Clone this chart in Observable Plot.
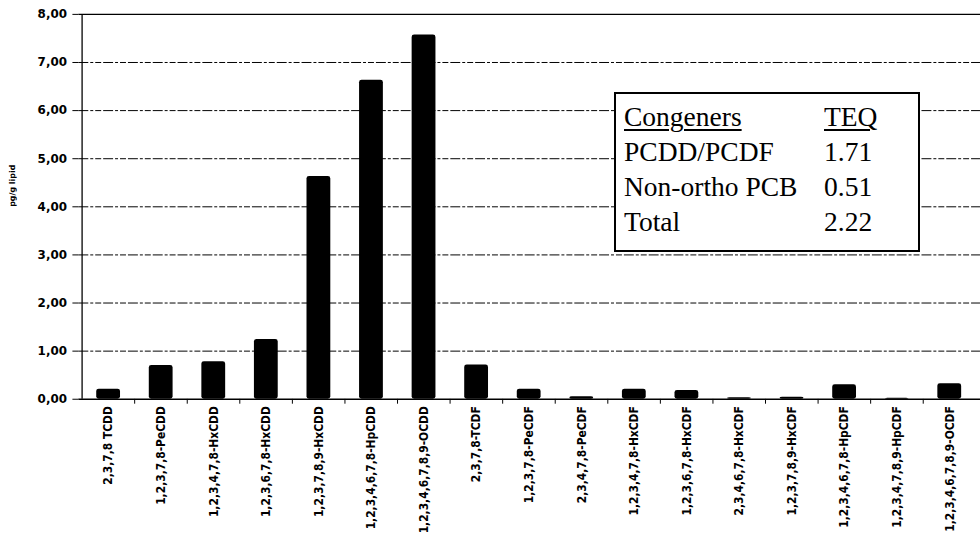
<!DOCTYPE html>
<html>
<head>
<meta charset="utf-8">
<script src="https://cdn.jsdelivr.net/npm/d3@7"></script>
<script src="https://cdn.jsdelivr.net/npm/@observablehq/plot@0.6"></script>
<style>
  html, body { margin: 0; padding: 0; background: #fff; overflow: hidden; }
  #wrap { position: relative; width: 980px; height: 538px; overflow: hidden; }
  #chart svg { display: block; }
  #chart g[aria-label="y-axis tick label"] text { font-weight: bold; }
  #legend {
    position: absolute; left: 614px; top: 92px; width: 302px; height: 156px;
    border: 2px solid #000; background: #fff;
    font-family: "Liberation Serif", "DejaVu Serif", serif; font-size: 27.5px; color: #000;
    box-sizing: content-box;
  }
  #legend table { border-collapse: collapse; margin: 5px 0 0 8px; }
  #legend td { padding: 0; line-height: 35px; white-space: nowrap; }
  #legend td.c1 { width: 200px; }
  #legend tr.head td { text-decoration: underline; text-decoration-thickness: 1.5px; text-underline-offset: 3px; }
</style>
</head>
<body>
<div id="wrap">
  <div id="chart"></div>
  <div id="legend"></div>
</div>
<script>
const categories = [
  "2,3,7,8 TCDD",
  "1,2,3,7,8-PeCDD",
  "1,2,3,4,7,8-HxCDD",
  "1,2,3,6,7,8-HxCDD",
  "1,2,3,7,8,9-HxCDD",
  "1,2,3,4,6,7,8-HpCDD",
  "1,2,3,4,6,7,8,9-OCDD",
  "2,3,7,8-TCDF",
  "1,2,3,7,8-PeCDF",
  "2,3,4,7,8-PeCDF",
  "1,2,3,4,7,8-HxCDF",
  "1,2,3,6,7,8-HxCDF",
  "2,3,4,6,7,8-HxCDF",
  "1,2,3,7,8,9-HxCDF",
  "1,2,3,4,6,7,8-HpCDF",
  "1,2,3,4,7,8,9-HpCDF",
  "1,2,3,4,6,7,8,9-OCDF"
];
const values = [0.21, 0.70, 0.78, 1.24, 4.63, 6.63, 7.57, 0.71, 0.21, 0.05, 0.21, 0.18, 0.03, 0.04, 0.30, 0.02, 0.32];
const yTicks = [0, 1, 2, 3, 4, 5, 6, 7, 8];
const yLabel = "pg/g lipid";
const legendHeader = ["Congeners", "TEQ"];
const legendCongeners = ["PCDD/PCDF", "Non-ortho PCB", "Total"];
const legendTEQ = ["1.71", "0.51", "2.22"];

const data = categories.map((c, i) => ({category: c, value: values[i]}));

const W = 988, H = 538, mL = 79, mR = 0, mT = 14, mB = 136;
const step = (W - mL - mR) / categories.length;
const fmt = d => d.toFixed(2).replace(".", ",");

const chart = Plot.plot({
  width: W,
  height: H,
  marginLeft: mL,
  marginRight: mR,
  marginTop: mT,
  marginBottom: mB,
  style: {background: "#fff", color: "#000"},
  x: {domain: categories, paddingInner: 0.54, paddingOuter: 0.27, axis: null},
  y: {domain: [0, 8], axis: null},
  marks: [
    Plot.ruleY(yTicks.filter(d => d > 0 && d < 8), {y: d => d, stroke: "#000", strokeWidth: 1, strokeDasharray: "10,2,3,2,6,2"}),
    Plot.ruleY([8], {stroke: "#000", strokeWidth: 1.2}),
    Plot.barY(data, {x: "category", y: "value", fill: "#000", rx: 2.5}),
    Plot.ruleY([0], {stroke: "#000", strokeWidth: 1.3}),
    Plot.ruleX([categories[0]], {dx: -step / 2, y1: 0, y2: 8, stroke: "#000", strokeWidth: 1.3}),
    Plot.ruleX(categories.slice(1), {x: d => d, dx: -step / 2, y1: 0, y2: 0.1, dy: 5, stroke: "#000"}),
    Plot.axisY({
      ticks: yTicks, tickFormat: fmt, tickSize: 6, tickPadding: 6,
      fontSize: 12, fontWeight: "bold", fontFamily: "DejaVu Sans, sans-serif", label: null
    }),
    Plot.axisX({
      tickSize: 0, tickRotate: -90, tickPadding: 7, label: null,
      fontSize: 12, fontWeight: "bold", fontFamily: "DejaVu Sans Condensed, DejaVu Sans, sans-serif"
    }),
    Plot.text([yLabel], {
      frameAnchor: "left", dx: -67, rotate: -90, fontSize: 8, fontWeight: "bold",
      fontFamily: "DejaVu Sans, sans-serif", fill: "#000"
    })
  ]
});
document.getElementById("chart").appendChild(chart);

// TEQ summary box
const rows = [legendHeader].concat(legendCongeners.map((c, i) => [c, legendTEQ[i]]));
const table = d3.select("#legend").append("table");
const tr = table.selectAll("tr").data(rows).join("tr").attr("class", (d, i) => i === 0 ? "head" : null);
tr.selectAll("td").data(d => d).join("td").attr("class", (d, i) => "c" + (i + 1)).text(d => d);
</script>
</body>
</html>
